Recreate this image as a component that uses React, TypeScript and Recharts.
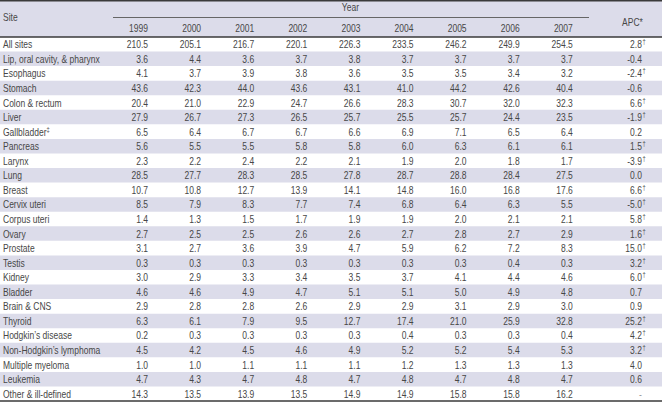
import React from 'react';
import { ScatterChart, Scatter, XAxis, YAxis, ReferenceArea, ReferenceLine } from 'recharts';

// ---------- data ----------
const years = ['1999', '2000', '2001', '2002', '2003', '2004', '2005', '2006', '2007'];
const apcHeader = 'APC*';
const siteHeader = 'Site';
const yearHeader = 'Year';

const sites = [
  'All sites', 'Lip, oral cavity, & pharynx', 'Esophagus', 'Stomach', 'Colon & rectum', 'Liver',
  'Gallbladder', 'Pancreas', 'Larynx', 'Lung', 'Breast', 'Cervix uteri', 'Corpus uteri', 'Ovary',
  'Prostate', 'Testis', 'Kidney', 'Bladder', 'Brain & CNS', 'Thyroid', 'Hodgkin\u2019s disease',
  'Non-Hodgkin\u2019s lymphoma', 'Multiple myeloma', 'Leukemia', 'Other & ill-defined',
];
const siteNotes = ['', '', '', '', '', '', '\u2021', '', '', '', '', '', '', '', '', '', '', '', '', '', '', '', '', '', ''];

const v1999 = [210.5, 3.6, 4.1, 43.6, 20.4, 27.9, 6.5, 5.6, 2.3, 28.5, 10.7, 8.5, 1.4, 2.7, 3.1, 0.3, 3.0, 4.6, 2.9, 6.3, 0.2, 4.5, 1.0, 4.7, 14.3];
const v2000 = [205.1, 4.4, 3.7, 42.3, 21.0, 26.7, 6.4, 5.5, 2.2, 27.7, 10.8, 7.9, 1.3, 2.5, 2.7, 0.3, 2.9, 4.6, 2.8, 6.1, 0.3, 4.2, 1.0, 4.3, 13.5];
const v2001 = [216.7, 3.6, 3.9, 44.0, 22.9, 27.3, 6.7, 5.5, 2.4, 28.3, 12.7, 8.3, 1.5, 2.5, 3.6, 0.3, 3.3, 4.9, 2.8, 7.9, 0.3, 4.5, 1.1, 4.7, 13.9];
const v2002 = [220.1, 3.7, 3.8, 43.6, 24.7, 26.5, 6.7, 5.8, 2.2, 28.5, 13.9, 7.7, 1.7, 2.6, 3.9, 0.3, 3.4, 4.7, 2.6, 9.5, 0.3, 4.6, 1.1, 4.8, 13.5];
const v2003 = [226.3, 3.8, 3.6, 43.1, 26.6, 25.7, 6.6, 5.8, 2.1, 27.8, 14.1, 7.4, 1.9, 2.6, 4.7, 0.3, 3.5, 5.1, 2.9, 12.7, 0.3, 4.9, 1.1, 4.7, 14.9];
const v2004 = [233.5, 3.7, 3.5, 41.0, 28.3, 25.5, 6.9, 6.0, 1.9, 28.7, 14.8, 6.8, 1.9, 2.7, 5.9, 0.3, 3.7, 5.1, 2.9, 17.4, 0.4, 5.2, 1.2, 4.8, 14.9];
const v2005 = [246.2, 3.7, 3.5, 44.2, 30.7, 25.7, 7.1, 6.3, 2.0, 28.8, 16.0, 6.4, 2.0, 2.8, 6.2, 0.3, 4.1, 5.0, 3.1, 21.0, 0.3, 5.2, 1.3, 4.7, 15.8];
const v2006 = [249.9, 3.7, 3.4, 42.6, 32.0, 24.4, 6.5, 6.1, 1.8, 28.4, 16.8, 6.3, 2.1, 2.7, 7.2, 0.4, 4.4, 4.9, 2.9, 25.9, 0.3, 5.4, 1.3, 4.8, 15.8];
const v2007 = [254.5, 3.7, 3.2, 40.4, 32.3, 23.5, 6.4, 6.1, 1.7, 27.5, 17.6, 5.5, 2.1, 2.9, 8.3, 0.3, 4.6, 4.8, 3.0, 32.8, 0.4, 5.3, 1.3, 4.7, 16.2];
const apc: (number | null)[] = [2.8, -0.4, -2.4, -0.6, 6.6, -1.9, 0.2, 1.5, -3.9, 0.0, 6.6, -5.0, 5.8, 1.6, 15.0, 3.2, 6.0, 0.7, 0.9, 25.2, 4.2, 3.2, 4.0, 0.6, null];
const apcSignificant = [1, 0, 1, 0, 1, 1, 0, 1, 1, 0, 1, 1, 1, 1, 1, 1, 1, 0, 0, 1, 1, 1, 0, 0, 0];

const yearValues = [v1999, v2000, v2001, v2002, v2003, v2004, v2005, v2006, v2007];

// ---------- layout / style ----------
const W = 662;
const H = 402;
const HEADER_H = 37;
const BOTTOM = 1;
const COL0_RIGHT = 148;
const COL_STEP = 53.1;
const SITE_LEFT = 3;
const ROW_PX = (H - HEADER_H - BOTTOM) / sites.length;
const X_MIN = -COL0_RIGHT / COL_STEP;
const X_MAX = (W - COL0_RIGHT) / COL_STEP;
const APC_COL = years.length;
const FONT = "'Liberation Sans', Arial, sans-serif";
const NARROW = 0.76;
const TEXT = '#474747';
const BAND = '#dcdcea';
const RULE = '#3a3a3a';
const FS = 11.2;

const pxToRow = (px: number) => -0.5 - (HEADER_H - px) / ROW_PX;
const pxToCol = (px: number) => (px - COL0_RIGHT) / COL_STEP;
const SITE_COL = pxToCol(SITE_LEFT);

type Cell = { col: number; row: number; text: string; note: string; kind: 'val' | 'apc' | 'site' };
const cells: Cell[] = [];
yearValues.forEach((arr, c) => {
  arr.forEach((v, r) => cells.push({ col: c, row: r, text: v.toFixed(1), note: '', kind: 'val' }));
});
apc.forEach((v, r) =>
  cells.push({ col: APC_COL, row: r, text: v === null ? '-' : v.toFixed(1), note: apcSignificant[r] ? '\u2020' : '', kind: 'apc' })
);
const siteCells: Cell[] = sites.map((s, r) => ({ col: SITE_COL, row: r, text: s, note: siteNotes[r], kind: 'site' }));

const rowTicks = sites.map((_, i) => i);
const colTicks = [...years.map((_, i) => i), APC_COL];

// narrow text: Liberation Sans horizontally condensed
const NText = ({ x, y, anchor, children, fill = TEXT, size = FS }: any) => (
  <text transform={`translate(${x},${y}) scale(${NARROW},1)`} x={0} y={0} textAnchor={anchor}
    fontFamily={FONT} fontSize={size} fill={fill}>{children}</text>
);

const CellShape = (props: any) => {
  const { cx, cy, payload } = props;
  if (cx == null || cy == null) return null;
  const base = cy + 4;
  if (payload.kind === 'site') {
    return (
      <NText x={cx} y={base} anchor="start">
        {payload.text}
        {payload.note ? <tspan fontSize={7.5} dy={-4}>{payload.note}</tspan> : null}
      </NText>
    );
  }
  if (payload.kind === 'apc') {
    const xEnd = cx + 16;
    return (
      <g>
        <NText x={xEnd} y={base} anchor="end" fill={payload.text === '-' ? '#999' : TEXT}>{payload.text}</NText>
        {payload.note ? <NText x={xEnd + 0.5} y={cy} anchor="start" size={7.5}>{payload.note}</NText> : null}
      </g>
    );
  }
  return <NText x={cx} y={base} anchor="end">{payload.text}</NText>;
};

const HeaderTick = (props: any) => {
  const { x, payload } = props;
  const i = payload.value as number;
  const items: React.ReactNode[] = [];
  if (i === APC_COL) {
    items.push(<NText key="apc" x={x + 17} y={26} anchor="end">{apcHeader}</NText>);
  } else {
    items.push(<NText key="yr" x={x} y={32} anchor="end">{years[i]}</NText>);
  }
  if (i === 0) {
    items.push(<NText key="site" x={SITE_LEFT} y={21} anchor="start">{siteHeader}</NText>);
  }
  if (i === 4) {
    items.push(<NText key="year" x={x - 10} y={11} anchor="middle">{yearHeader}</NText>);
  }
  return <g>{items}</g>;
};

export default function App() {
  return (
    <div style={{ position: 'absolute', left: 0, top: 0, width: W, height: H, background: '#fff' }}>
      <ScatterChart width={W} height={H} margin={{ top: 0, right: 0, bottom: BOTTOM, left: 0 }}>
        <ReferenceArea y1={pxToRow(0)} y2={-0.5} x1={X_MIN} x2={X_MAX} fill={BAND} fillOpacity={1}
          stroke="none" ifOverflow="visible" />
        {rowTicks.filter((r) => r % 2 === 1).map((r) => (
          <ReferenceArea key={r} y1={r - 0.5} y2={r + 0.5} x1={X_MIN} x2={X_MAX} fill={BAND} fillOpacity={1}
            stroke="none" ifOverflow="visible" />
        ))}
        <XAxis type="number" dataKey="col" orientation="top" height={HEADER_H} domain={[X_MIN, X_MAX]}
          allowDataOverflow ticks={colTicks} interval={0} tickLine={false}
          axisLine={{ stroke: RULE, strokeWidth: 1.5 }} tick={<HeaderTick />} />
        <YAxis type="number" dataKey="row" hide domain={[-0.5, sites.length - 0.5]} reversed
          allowDataOverflow ticks={rowTicks} />
        <ReferenceLine y={pxToRow(0.75)} stroke={RULE} strokeWidth={1.5} ifOverflow="visible" />
        <ReferenceLine segment={[{ x: pxToCol(113), y: pxToRow(17.5) }, { x: pxToCol(589), y: pxToRow(17.5) }]}
          stroke="#666" strokeWidth={1} ifOverflow="visible" />
        <ReferenceLine y={sites.length - 0.5} stroke={RULE} strokeWidth={1.5} ifOverflow="visible" />
        <Scatter data={siteCells} isAnimationActive={false} shape={<CellShape />} />
        <Scatter data={cells} isAnimationActive={false} shape={<CellShape />} />
      </ScatterChart>
    </div>
  );
}
